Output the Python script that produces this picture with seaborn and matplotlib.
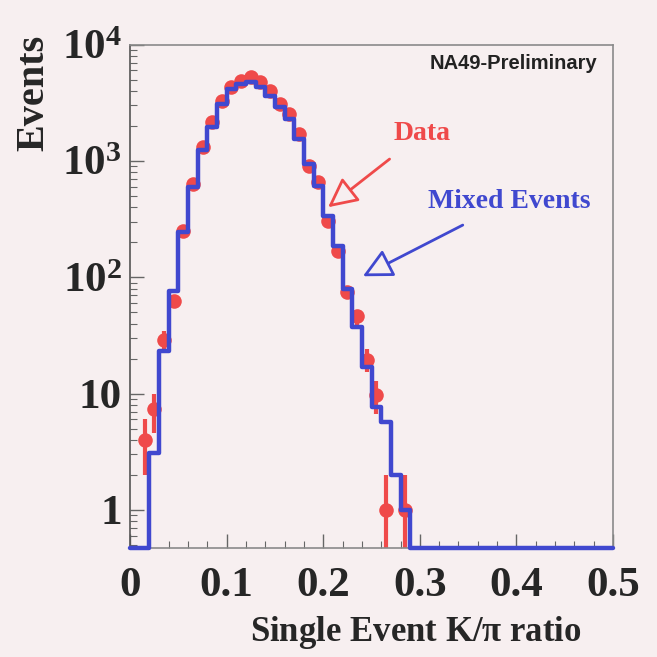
import numpy as np
import pandas as pd
import matplotlib
matplotlib.use("Agg")
import matplotlib.pyplot as plt
import seaborn as sns
from matplotlib.ticker import FixedLocator, FixedFormatter, MultipleLocator, LogLocator, NullFormatter

# ---------------- data ----------------
bin_width = 0.01
# Mixed events histogram, bins of 0.01 from 0.00 to 0.50
mixed_events = [0, 0, 3.1, 23, 76, 244, 600, 1240, 1950, 3100,
                4170, 4600, 4800, 4340, 3630, 2920, 2300, 1550, 950, 610,
                335, 185, 79, 37, 17, 7.7, 5.7, 2.0, 1.0] + [0] * 21
# Data points (same binning), 0 = no point
data_events = [0, 4.0, 7.3, 29, 63, 250, 630, 1320, 2180, 3300,
               4340, 4900, 5300, 4800, 4000, 3100, 2540, 1700, 905, 660,
               303, 167, 75, 46, 19.6, 9.8, 1.0, 0, 1.0]

x_tick_values = [0, 0.1, 0.2, 0.3, 0.4, 0.5]
x_tick_labels = ["0", "0.1", "0.2", "0.3", "0.4", "0.5"]
y_tick_values = [1, 10, 100, 1000, 10000]
y_tick_labels = ["1", "10", r"$\mathbf{10^{2}}$", r"$\mathbf{10^{3}}$", r"$\mathbf{10^{4}}$"]

# ---------------- style ----------------
bg = "#f7eff0"
red = "#ef4a4a"
blue = "#4048cf"
sns.set_style("ticks")
plt.rcParams["font.family"] = ["Liberation Serif", "DejaVu Serif"]
plt.rcParams["mathtext.fontset"] = "custom"
plt.rcParams["mathtext.rm"] = "Liberation Serif:bold"
plt.rcParams["mathtext.bf"] = "Liberation Serif:bold"
plt.rcParams["mathtext.it"] = "Liberation Serif:bold"

fig = plt.figure(figsize=(6.57, 6.57), dpi=100, facecolor=bg)
ax = fig.add_axes([0.198, 0.166, 0.735, 0.766], facecolor=bg)
ax.set_yscale("log")

y_floor = 0.47
n_bins = len(mixed_events)
centers = (np.arange(n_bins) + 0.5) * bin_width
mixed = np.array(mixed_events, dtype=float)
mixed_plot = np.where(mixed > 0, mixed, y_floor)

df_mix = pd.DataFrame({"x": centers, "w": mixed_plot})
sns.histplot(data=df_mix, x="x", weights="w", binwidth=bin_width,
             binrange=(0, n_bins * bin_width), element="step",
             fill=False, color=blue, linewidth=3.2, ax=ax, zorder=4)
for ln in ax.lines:
    ln.set_clip_on(False)

d = np.array(data_events, dtype=float)
dc = centers[:len(d)]
mask = d > 0
df_dat = pd.DataFrame({"x": dc[mask], "y": d[mask]})
ax.errorbar(df_dat["x"], df_dat["y"], yerr=np.sqrt(df_dat["y"]), fmt="none",
            ecolor=red, elinewidth=3, capsize=0, zorder=2)
sns.scatterplot(data=df_dat, x="x", y="y", color=red, s=110, edgecolor=red,
                linewidth=0, ax=ax, zorder=3)

ax.set_xlim(0, 0.5)
ax.set_ylim(y_floor, 10000)

# ticks
ax.xaxis.set_major_locator(FixedLocator(x_tick_values))
ax.xaxis.set_major_formatter(FixedFormatter(x_tick_labels))
ax.xaxis.set_minor_locator(MultipleLocator(0.02))
ax.yaxis.set_major_locator(FixedLocator(y_tick_values))
ax.yaxis.set_major_formatter(FixedFormatter(y_tick_labels))
ax.yaxis.set_minor_locator(LogLocator(base=10, subs=np.arange(2, 10)))
ax.yaxis.set_minor_formatter(NullFormatter())
ax.tick_params(axis="both", which="both", direction="in", color="#666666")
ax.tick_params(axis="both", which="major", length=10, width=1)
ax.tick_params(axis="both", which="minor", length=5, width=0.8)
ax.tick_params(axis="x", which="major", labelsize=31, pad=14)
ax.tick_params(axis="y", which="major", labelsize=31, pad=6)
for lab in ax.get_xticklabels() + ax.get_yticklabels():
    lab.set_fontweight("bold")

for s in ax.spines.values():
    s.set_visible(True)
    s.set_color("#8a8a8a")
    s.set_linewidth(1.2)
ax.spines["left"].set_color("#555555")

ax.set_xlabel(r"Single Event K/$\mathbf{\pi}$ ratio", fontsize=25, fontweight="bold")
ax.xaxis.set_label_coords(0.592, -0.132)
ax.set_ylabel("Events", fontsize=29, fontweight="bold")
ax.yaxis.set_label_coords(-0.16, 0.905)

ax.text(0.968, 0.962, "NA49-Preliminary", transform=ax.transAxes, ha="right",
        va="center", fontsize=14.5, fontweight="bold",
        family=["Liberation Sans", "DejaVu Sans"], color="#222222")

ax.annotate("Data", xy=(0.205, 400), xytext=(0.302, 1710), color=red,
            fontsize=20, fontweight="bold", ha="center", va="center",
            arrowprops=dict(arrowstyle="-|>,head_length=0.9,head_width=0.45",
                            color=red, fc=bg, lw=2, shrinkA=11, shrinkB=0))
ax.annotate("Mixed Events", xy=(0.241, 102), xytext=(0.393, 452), color=blue,
            fontsize=20, fontweight="bold", ha="center", va="center",
            arrowprops=dict(arrowstyle="-|>,head_length=0.9,head_width=0.45",
                            color=blue, fc=bg, lw=2, shrinkA=13, shrinkB=0))

fig.savefig("out.png", dpi=100, facecolor=bg)
